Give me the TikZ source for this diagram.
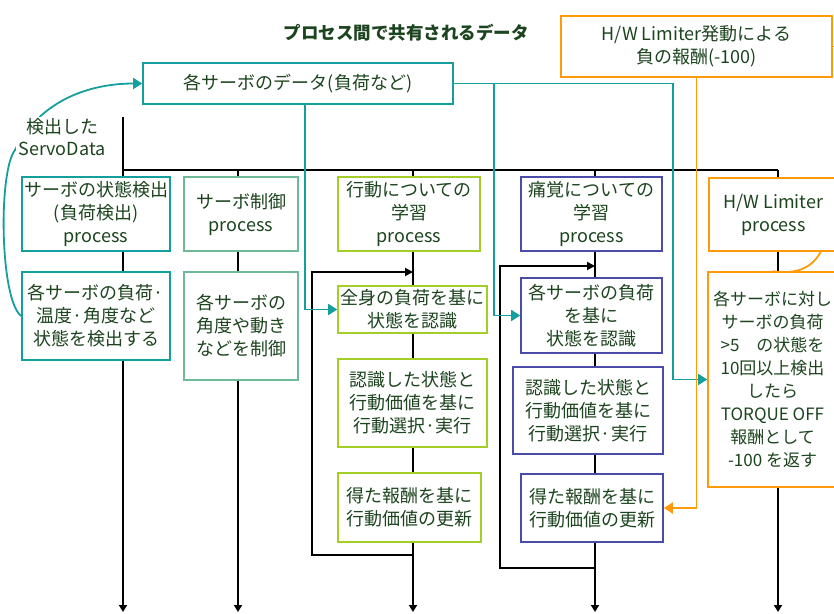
\documentclass[tikz,border=0pt]{standalone}
\usepackage{fontspec}
\setmainfont{Noto Sans CJK JP}
\usetikzlibrary{arrows.meta,backgrounds}
\definecolor{tealc}{RGB}{20,158,158}
\definecolor{ctrlc}{RGB}{110,185,150}
\definecolor{limec}{RGB}{165,205,40}
\definecolor{bluec}{RGB}{75,75,170}
\definecolor{orangec}{RGB}{255,155,10}
\definecolor{txtc}{RGB}{28,68,30}
\tikzset{
  basebox/.style={draw, line width=1.6pt, fill=white, text=txtc, align=center, inner sep=0pt,
    font=\fontsize{18}{23}\selectfont},
  tealbox/.style={basebox, draw=tealc},
  ctrlbox/.style={basebox, draw=ctrlc},
  limebox/.style={basebox, draw=limec},
  bluebox/.style={basebox, draw=bluec},
  orangebox/.style={basebox, draw=orangec},
  timeline/.style={line width=1.8pt, black, -{Triangle[width=8pt,length=7pt]}},
  plainline/.style={line width=1.8pt, black},
  looparrow/.style={line width=1.8pt, black, -{Triangle[width=8pt,length=8pt]}},
  tealarrow/.style={line width=1.8pt, draw=tealc, -{Triangle[width=11pt,length=9pt]}, tealc},
  orangearrow/.style={line width=1.8pt, draw=orangec, -{Triangle[width=11pt,length=9pt]}, orangec},
}
\begin{document}
\begin{tikzpicture}[x=1pt,y=-1pt]
\useasboundingbox (0,0) rectangle (834,613);

% title
\node[text=txtc, font=\fontsize{17.5}{20}\selectfont\bfseries] (title) at (406,33) {プロセス間で共有されるデータ};

% shared data boxes
\node[tealbox, minimum width=310pt, minimum height=41pt] (S) at (298,83.5) {各サーボのデータ(負荷など)};
\node[orangebox, minimum width=271pt, minimum height=61pt] (R) at (696.5,46.5) {H/W Limiter発動による\\負の報酬(-100)};

% column A
\node[tealbox, minimum width=148pt, minimum height=74pt] (A1) at (96,214) {サーボの状態検出\\(負荷検出)\\process};
\node[tealbox, minimum width=148pt, minimum height=88pt] (A2) at (96,316) {各サーボの負荷·\\温度·角度など\\状態を検出する};
% column B
\node[ctrlbox, minimum width=114pt, minimum height=74pt] (B1) at (241,214) {サーボ制御\\process};
\node[ctrlbox, minimum width=114pt, minimum height=108pt] (B2) at (241,326) {各サーボの\\角度や動き\\などを制御};
% column C
\node[limebox, minimum width=142pt, minimum height=74pt] (C1) at (409,214) {行動についての\\学習\\process};
\node[limebox, minimum width=149pt, minimum height=47pt] (C2) at (412.5,309.5) {全身の負荷を基に\\状態を認識};
\node[limebox, minimum width=149pt, minimum height=88pt] (C3) at (412.5,403) {認識した状態と\\行動価値を基に\\行動選択·実行};
\node[limebox, minimum width=143pt, minimum height=69pt] (C4) at (409.5,507.5) {得た報酬を基に\\行動価値の更新};
% column D
\node[bluebox, minimum width=141pt, minimum height=74pt] (D1) at (591.5,214) {痛覚についての\\学習\\process};
\node[bluebox, minimum width=141pt, minimum height=75pt] (D2) at (591.5,315.5) {各サーボの負荷\\を基に\\状態を認識};
\node[bluebox, minimum width=150pt, minimum height=87pt] (D3) at (588,410.5) {認識した状態と\\行動価値を基に\\行動選択·実行};
\node[bluebox, minimum width=142pt, minimum height=68pt] (D4) at (592,508) {得た報酬を基に\\行動価値の更新};
% column E
\node[orangebox, minimum width=129pt, minimum height=73pt] (E1) at (773.5,214.5) {H/W Limiter\\process};
\node[orangebox, minimum width=129pt, minimum height=215pt, font=\fontsize{17}{23}\selectfont] (E2) at (772.5,379.5) {各サーボに対し\\サーボの負荷\\>5　の状態を\\10回以上検出\\したら\\TORQUE OFF\\報酬として\\-100 を返す};

\begin{pgfonlayer}{background}
  % timelines
  \coordinate (ta) at (123,117);  \coordinate (tab) at (123,612);
  \coordinate (tbar) at (123,170); \coordinate (tend) at (778,170);
  \coordinate (tb) at (238,170);  \coordinate (tbb) at (238,612);
  \coordinate (tc) at (413,170);  \coordinate (tcb) at (413,612);
  \coordinate (td) at (595,170);  \coordinate (tdb) at (595,612);
  \coordinate (te) at (778,170);  \coordinate (teb) at (778,612);
  \draw[timeline] (ta) -- (tab);
  \draw[plainline] (tbar) -- (tend);
  \draw[timeline] (tb) -- (tbb);
  \draw[timeline] (tc) -- (tcb);
  \draw[timeline] (td) -- (tdb);
  \draw[timeline] (te) -- (teb);
  % learning loops
  \coordinate (cl1) at (413,555); \coordinate (cl2) at (312,555);
  \coordinate (cl3) at (312,272); \coordinate (cl4) at (413,272);
  \draw[looparrow] (cl1) -- (cl2) -- (cl3) -- (cl4);
  \coordinate (dl1) at (595,568); \coordinate (dl2) at (500,568);
  \coordinate (dl3) at (500,266); \coordinate (dl4) at (595,266);
  \draw[looparrow] (dl1) -- (dl2) -- (dl3) -- (dl4);
  % shared data connectors
  \draw[tealarrow] ([xshift=7pt]S.south) |- (C2.west);
  \coordinate (br) at (494,83.5);
  \draw[line width=1.8pt, tealc] (S.east) -- (br);
  \draw[tealarrow] (br) |- (D2.west);
  \draw[tealarrow] (br) -| ([xshift=-34pt]E2.west) -- (E2.west);
  \draw[orangearrow] (R.south) |- (D4.east);
  % detected servo data curve
  \draw[tealarrow] (A2.west) .. controls (0,300) and (-2,172) .. (15,150)
      .. controls (40,100) and (90,83.5) .. (S.west);
  % limiter curve
  \draw[orangearrow] (E2.north) .. controls (805,276) and (822,262) .. (828,230)
      .. controls (836,170) and (852,46.5) .. (R.east);
\end{pgfonlayer}

% label on curve
\node[fill=white, text=txtc, align=center, inner sep=1pt, font=\fontsize{18}{22}\selectfont,
      minimum width=93pt, minimum height=40pt] (L) at (62,137) {検出した\\ServoData};
\end{tikzpicture}
\end{document}
